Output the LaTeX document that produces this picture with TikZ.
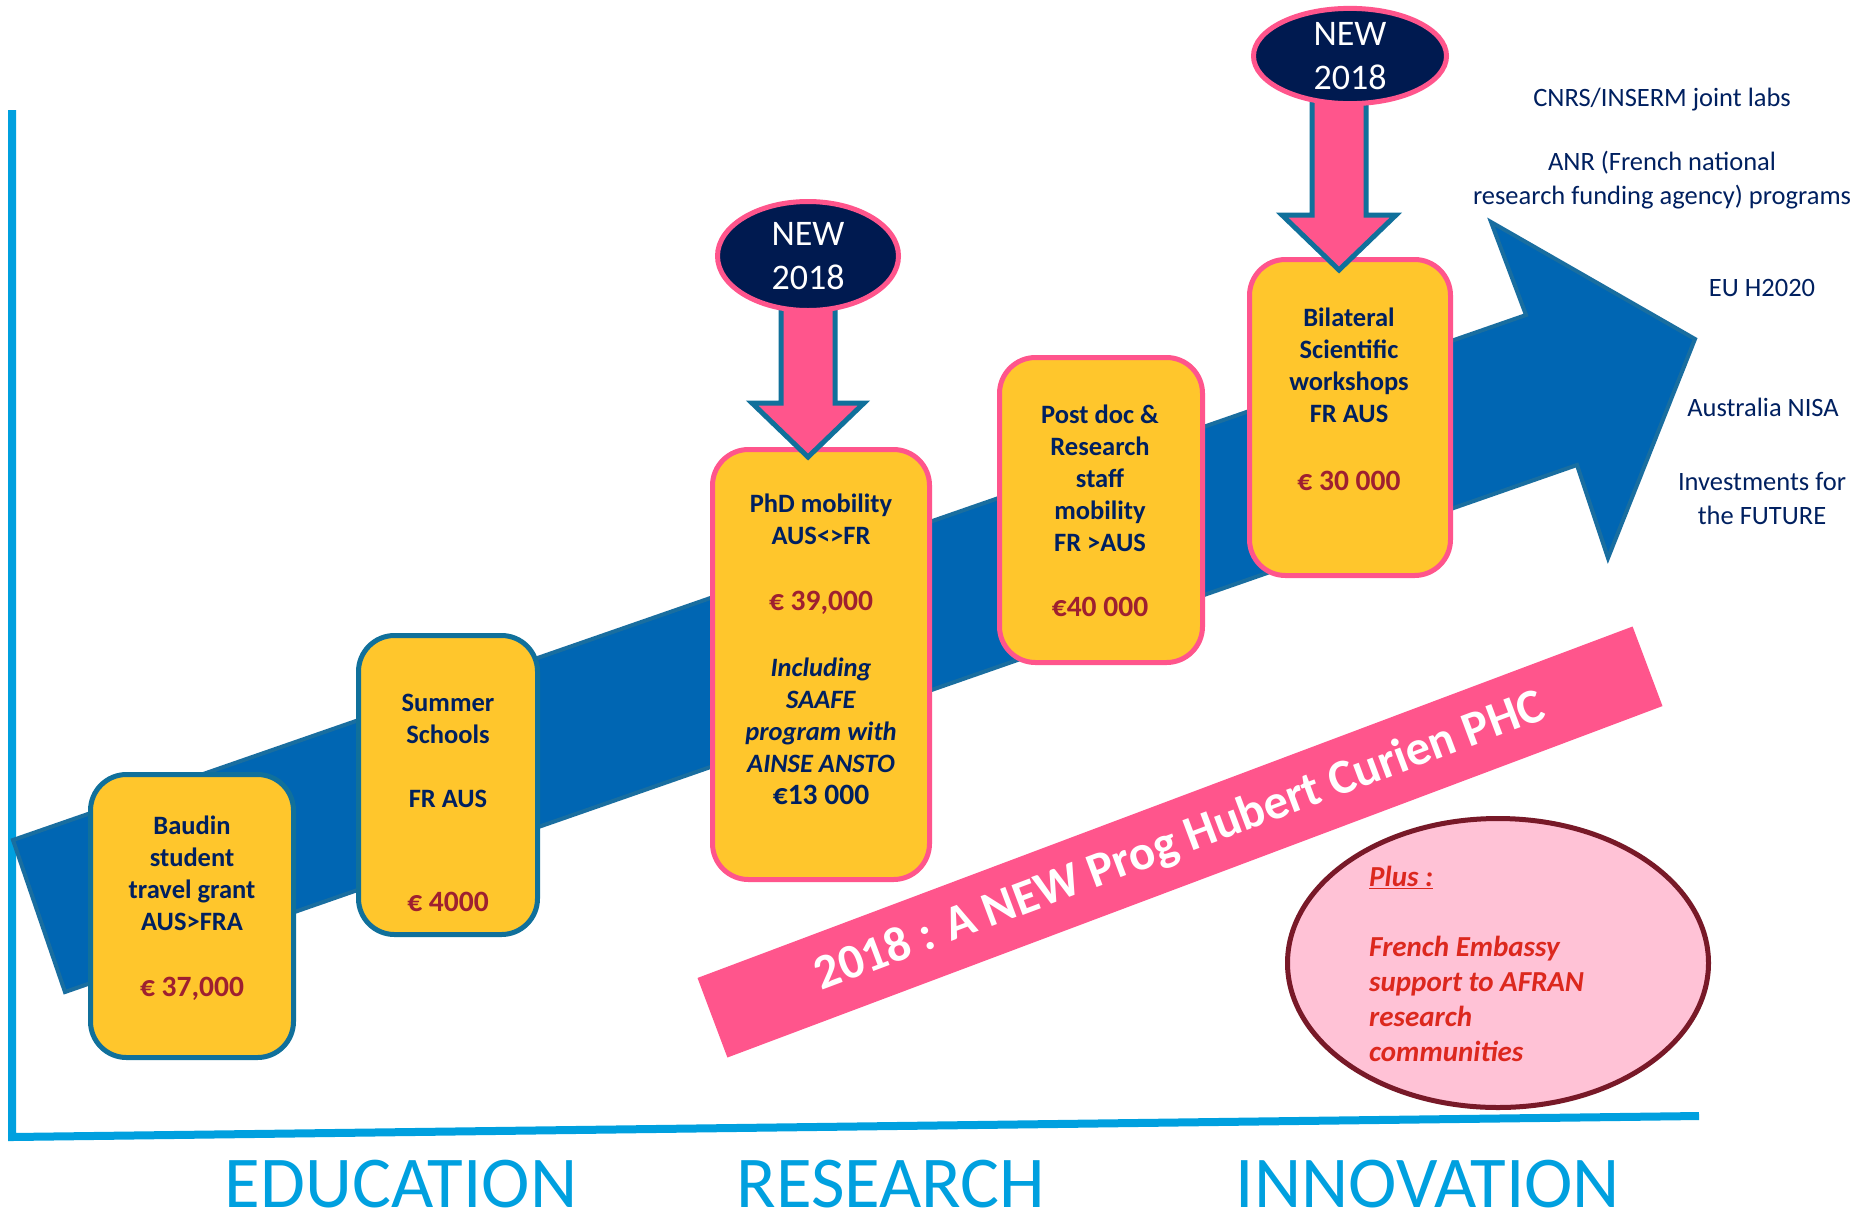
\documentclass[tikz,border=0pt]{standalone}
\usepackage{fontspec}
\setmainfont{Carlito}
\usetikzlibrary{calc,shapes.geometric}
\definecolor{navy}{RGB}{0,32,96}
\definecolor{money}{RGB}{158,32,48}
\definecolor{ybox}{RGB}{255,198,44}
\definecolor{teal}{RGB}{16,112,155}
\definecolor{hotpink}{RGB}{255,85,140}
\definecolor{arrowblue}{RGB}{0,102,179}
\definecolor{arrowedge}{RGB}{25,110,160}
\definecolor{axisblue}{RGB}{0,160,223}
\definecolor{ellnavy}{RGB}{0,26,80}
\definecolor{lightpink}{RGB}{255,194,214}
\definecolor{maroon}{RGB}{120,25,40}
\definecolor{plusred}{RGB}{220,40,30}
\newcommand\amtbig[1]{{\fontsize{29.5}{32}\selectfont #1}}
\newcommand\amtred[1]{\amtbig{\textcolor{money}{#1}}}
\begin{document}
\begin{tikzpicture}[x=1pt,y=-1pt,
  boxshape/.style={draw, line width=5pt, fill=ybox, rounded corners=36pt, inner sep=0pt},
  tealbox/.style={boxshape, draw=teal},
  pinkbox/.style={boxshape, draw=hotpink},
  boxtext/.style={font=\fontsize{26.5}{32}\selectfont\bfseries, text=navy, align=center, inner sep=0pt},
  newell/.style={ellipse, draw=hotpink, line width=5pt, fill=ellnavy, text=white, align=center, inner sep=0pt, font=\fontsize{36}{44}\selectfont},
  downarr/.style={draw=teal, line width=5pt, fill=hotpink, line join=miter},
  sidetext/.style={font=\fontsize{26.5}{34}\selectfont, text=navy, align=center, inner sep=0pt},
  axisline/.style={draw=axisblue, line width=8pt},
  axislabel/.style={font=\fontsize{73}{80}\selectfont, text=axisblue, inner sep=0pt, text height=47pt, text depth=0pt},
  banner/.style={fill=hotpink, text=white, inner sep=0pt, font=\fontsize{49}{56}\selectfont\bfseries},
]
\useasboundingbox (0,0) rectangle (1876,1211);
\fill[white] (0,0) rectangle (1876,1211);

% axes
\coordinate (ytop) at (12,110);
\coordinate (origin) at (12,1137);
\coordinate (xend) at (1699,1116);
\draw[axisline] (ytop) -- (origin) -- (xend);

% big arrow
\coordinate (a1) at (13,840);
\coordinate (a2) at (1526,315);
\coordinate (a3) at (1491,222);
\coordinate (a4) at (1695,339);
\coordinate (a5) at (1608,558);
\coordinate (a6) at (1577,465);
\coordinate (a7) at (65,992);
\draw[fill=arrowblue, draw=arrowedge, line width=4pt, line join=miter] (a1) -- (a2) -- (a3) -- (a4) -- (a5) -- (a6) -- (a7) -- cycle;

% banner
\node[banner, rotate=20.6, minimum width=999pt, minimum height=85pt] (phc) at (1180,842) {2018 : A NEW Prog Hubert Curien PHC};

% boxes
\node[tealbox, minimum width=203pt, minimum height=283pt] (baudin) at (192,916) {};
\node[boxtext] (baudintxt) at (192,908) {Baudin\\student\\travel grant\\AUS>FRA\\[34pt]\amtred{€ 37,000}};

\node[tealbox, minimum width=179pt, minimum height=299pt] (summer) at (448,785) {};
\node[boxtext] (summertxt) at (448,803) {Summer\\Schools\\[32pt]FR AUS\\[72pt]\amtred{€ 4000}};

\node[pinkbox, minimum width=217pt, minimum height=430pt] (phd) at (821,664.5) {};
\node[boxtext] (phdtxt) at (821,649) {PhD mobility\\AUS<>FR\\[34pt]\amtred{€ 39,000}\\[34pt]\textit{Including}\\\textit{SAAFE}\\\textit{program with}\\\textit{AINSE ANSTO}\\\amtbig{€13 000}};

\node[pinkbox, minimum width=203pt, minimum height=305pt] (postdoc) at (1101,510) {};
\node[boxtext] (postdoctxt) at (1100,510.5) {Post doc \&\\Research\\staff\\mobility\\FR >AUS\\[33pt]\amtred{€40 000}};

\node[pinkbox, minimum width=201pt, minimum height=316pt] (bilat) at (1350,417.5) {};
\node[boxtext] (bilattxt) at (1349,399.5) {Bilateral\\Scientific\\workshops\\FR AUS\\[36pt]\amtred{€ 30 000}};

% NEW ellipses and down arrows
\coordinate (new1c) at (808,256);
\coordinate (new2c) at (1350,56);
\coordinate (tip1) at (808,457);
\coordinate (tip2) at (1339,270);
\coordinate (top1) at (tip1|-new1c);
\coordinate (top2) at (tip2|-new2c);
\draw[downarr] ($(top1)+(-27,0)$) -- ($(tip1)+(-27,-54)$) -- ($(tip1)+(-56,-54)$) -- (tip1) -- ($(tip1)+(56,-54)$) -- ($(tip1)+(27,-54)$) -- ($(top1)+(27,0)$) -- cycle;
\draw[downarr] ($(top2)+(-27,0)$) -- ($(tip2)+(-27,-55)$) -- ($(tip2)+(-57,-55)$) -- (tip2) -- ($(tip2)+(57,-55)$) -- ($(tip2)+(27,-55)$) -- ($(top2)+(27,0)$) -- cycle;
\node[newell, minimum width=181pt, minimum height=109pt] (new1) at (new1c) {NEW\\2018};
\node[newell, minimum width=193pt, minimum height=92pt] (new2) at (new2c) {NEW\\2018};

% Plus ellipse
\node[ellipse, draw=maroon, line width=5pt, fill=lightpink, minimum width=421pt, minimum height=289pt] (plus) at (1498,963) {};
\node[anchor=west, inner sep=0pt, align=left, text=plusred, font=\fontsize{29}{35}\selectfont\bfseries\itshape] (plustxt) at (1369,964) {\underline{Plus :}\\[35pt]French Embassy\\support to AFRAN\\research\\communities};

% right texts
\node[sidetext] (cnrs) at (1662,100) {CNRS/INSERM joint labs};
\node[sidetext] (anr) at (1662,180) {ANR (French national\\research funding agency) programs};
\node[sidetext] (eu) at (1762,288) {EU H2020};
\node[sidetext] (nisa) at (1763,407) {Australia NISA};
\node[sidetext] (invest) at (1762,499) {Investments for\\the FUTURE};

% axis labels
\node[axislabel] (edu) at (401,1184) {EDUCATION};
\node[axislabel] (res) at (891,1184) {RESEARCH};
\node[axislabel] (inno) at (1428,1184) {INNOVATION};
\end{tikzpicture}
\end{document}
